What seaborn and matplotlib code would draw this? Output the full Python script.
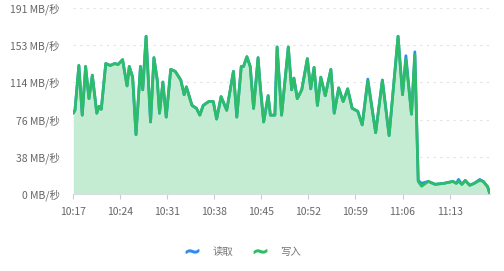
import numpy as np
import pandas as pd
import matplotlib
matplotlib.use("Agg")
import matplotlib.pyplot as plt
import matplotlib.dates as mdates
from matplotlib.lines import Line2D
import seaborn as sns

# ---------------- data ----------------
times = [
    "10:17:00", "10:17:15", "10:17:50", "10:18:20", "10:18:50", "10:19:20", "10:19:50", "10:20:30", "10:20:50", "10:21:10",
    "10:21:50", "10:22:30", "10:23:10", "10:23:40", "10:24:20", "10:25:00", "10:25:20", "10:25:50", "10:26:20", "10:27:00",
    "10:27:20", "10:27:50", "10:28:30", "10:29:00", "10:29:30", "10:29:50", "10:30:20", "10:30:50", "10:31:30", "10:32:10",
    "10:33:00", "10:33:30", "10:33:50", "10:34:40", "10:35:20", "10:35:50", "10:36:20", "10:37:10", "10:37:50", "10:38:20",
    "10:39:00", "10:39:50", "10:40:50", "10:41:20", "10:42:00", "10:42:20", "10:42:50", "10:43:20", "10:43:50", "10:44:30",
    "10:44:50", "10:45:20", "10:46:00", "10:46:20", "10:47:00", "10:47:20", "10:48:00", "10:49:00", "10:49:30", "10:49:50",
    "10:50:20", "10:51:00", "10:51:50", "10:52:20", "10:52:50", "10:53:20", "10:53:50", "10:54:30", "10:55:20", "10:55:50",
    "10:56:30", "10:57:10", "10:57:50", "10:58:30", "10:59:20", "11:00:00", "11:00:50", "11:02:00", "11:03:00", "11:04:00",
    "11:05:20", "11:06:00", "11:06:30", "11:07:20", "11:07:50", "11:08:20", "11:08:50", "11:09:50", "11:10:50", "11:12:10",
    "11:13:30", "11:14:00", "11:14:20", "11:14:50", "11:15:20", "11:16:00", "11:16:40", "11:17:30", "11:18:00", "11:18:40",
    "11:19:00",
]
write_mb = [
    83, 86, 132, 81, 131, 98, 122, 83, 90, 87,
    134, 132, 134, 133, 138, 111, 131, 120, 61, 131,
    107, 162, 74, 140, 117, 83, 115, 79, 128, 126,
    117, 102, 110, 91, 88, 81, 91, 95, 95, 77,
    100, 86, 126, 79, 131, 131, 141, 131, 88, 140,
    110, 74, 101, 81, 81, 151, 81, 151, 107, 119,
    98, 107, 139, 108, 130, 91, 120, 101, 128, 83,
    109, 95, 108, 88, 85, 71, 116, 63, 117, 60,
    162, 102, 138, 82, 143, 13, 8, 13, 10, 11,
    13, 11, 13, 10, 14, 9, 11, 14, 13, 7.5,
    0,
]
read_mb = [
    83, 86, 132, 81, 131, 98, 122, 83, 90, 87,
    134, 132, 134, 133, 138, 111, 131, 120, 61, 131,
    107, 162, 74, 140, 117, 83, 115, 79, 128, 126,
    117, 102, 110, 91, 88, 81, 91, 95, 95, 77,
    100, 86, 126, 79, 131, 131, 141, 131, 88, 140,
    110, 74, 101, 81, 81, 151, 81, 151, 107, 119,
    98, 107, 139, 108, 130, 91, 120, 101, 128, 83,
    109, 95, 108, 88, 85, 71, 118, 63, 117, 60,
    162, 102, 142, 82, 146, 14, 11, 13, 10, 11,
    13, 11, 15, 10, 14, 9, 11, 15, 13, 7.5,
    0,
]
series_names = ["读取", "写入"]
y_ticks = [0, 38.2, 76.4, 114.6, 152.8, 191]
y_tick_labels = ["0 MB/秒", "38 MB/秒", "76 MB/秒", "114 MB/秒", "153 MB/秒", "191 MB/秒"]
x_tick_labels = ["10:17", "10:24", "10:31", "10:38", "10:45", "10:52", "10:59", "11:06", "11:13"]

# ---------------- figure ----------------
sns.set_theme(style="white")
plt.rcParams["font.family"] = ["Noto Sans CJK SC", "DejaVu Sans"]

t = pd.to_datetime(["2024-01-01 " + s for s in times])
df = pd.DataFrame({
    "time": list(t) * 2,
    "value": read_mb + write_mb,
    "series": [series_names[0]] * len(t) + [series_names[1]] * len(t),
})

blue = "#2d8cf0"
green = "#2dbd69"
fill_green = "#c4ecd2"

fig = plt.figure(figsize=(5.04, 2.71), dpi=100)
ax = fig.add_axes([0.1454, 0.284, 0.972 - 0.1454, 0.9705 - 0.284])

ax.fill_between(t, 0, write_mb, color=fill_green, lw=0, zorder=1)
sns.lineplot(data=df, x="time", y="value", hue="series",
             palette={series_names[0]: blue, series_names[1]: green},
             hue_order=series_names, linewidth=2, ax=ax, legend=False,
             zorder=3, estimator=None, sort=False)
for l in ax.lines:
    l.set_solid_joinstyle("round")
    l.set_solid_capstyle("round")

ax.set_ylim(0, 191)
ax.set_xlim(t[0], t[-1])
ax.set_yticks(y_ticks)
ax.set_yticklabels(y_tick_labels)
xt = pd.to_datetime(["2024-01-01 " + s + ":00" for s in x_tick_labels])
ax.set_xticks(xt)
ax.set_xticklabels(x_tick_labels)
ax.set_xlabel("")
ax.set_ylabel("")

for yv in y_ticks[1:]:
    ax.axhline(yv, color="#e2e2e2", lw=0.8, ls=(0, (2, 4)), zorder=0)

for s in ["top", "right", "left"]:
    ax.spines[s].set_visible(False)
ax.spines["bottom"].set_color("#d9dde3")
ax.spines["bottom"].set_linewidth(0.8)
ax.tick_params(axis="y", length=0, pad=10, labelsize=7.5, labelcolor="#666666")
ax.tick_params(axis="x", length=3.5, width=0.8, color="#cccccc", direction="out",
               pad=6, labelsize=7.5, labelcolor="#666666", bottom=True)

handles = [
    Line2D([], [], color=blue, marker="$\\sim$", markersize=9, linestyle="none"),
    Line2D([], [], color=green, marker="$\\sim$", markersize=9, linestyle="none"),
]
fig.legend(handles, series_names, loc="center", bbox_to_anchor=(0.483, 0.07),
           ncol=2, frameon=False, fontsize=7.5, labelcolor="#777777",
           handlelength=1.2, handletextpad=1.3, columnspacing=2.0)

fig.savefig("out.png", dpi=100)
